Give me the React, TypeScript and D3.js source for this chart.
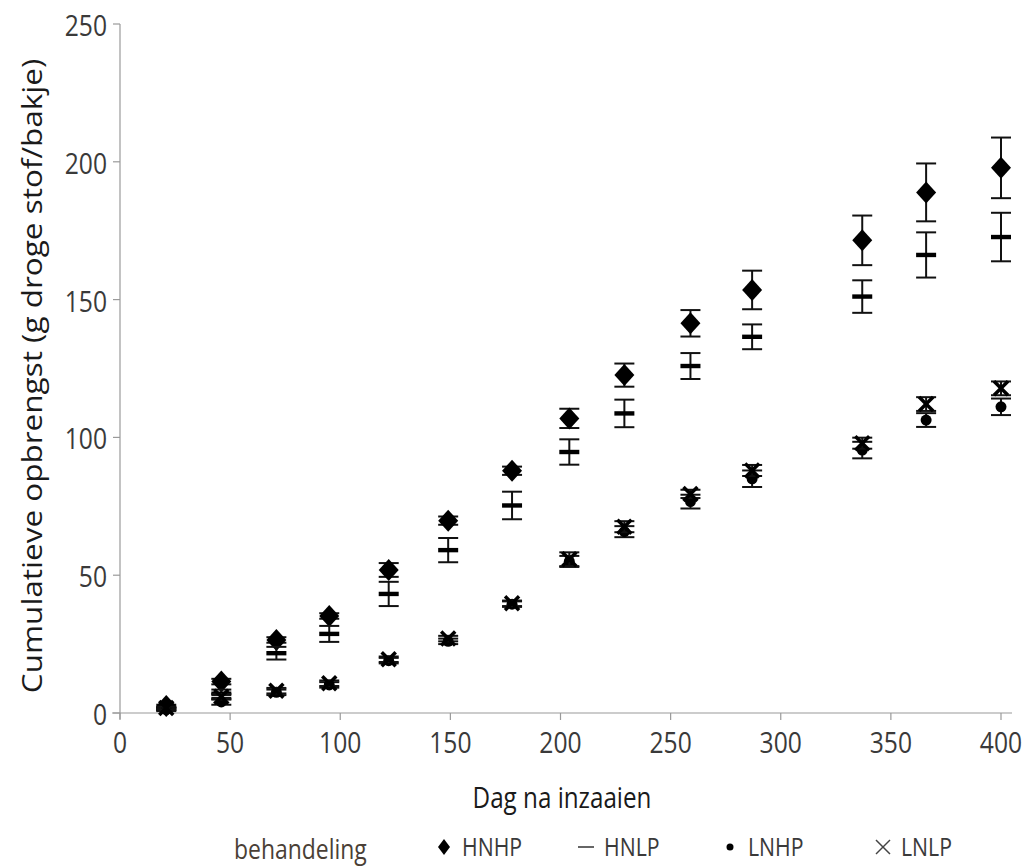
import React from "react";
import * as d3 from "d3";

const days = [21, 46, 71, 95, 122, 149, 178, 204, 229, 259, 287, 337, 366, 400];

const hnhp = [2.5, 11.4, 26.5, 35.2, 51.9, 69.8, 87.9, 106.9, 122.6, 141.4, 153.5, 171.5, 188.9, 197.8];
const hnhpErr = [0.5, 1, 1, 1, 2.5, 1.5, 1.5, 3.5, 4.2, 4.8, 7, 9, 10.5, 11];

const hnlp = [1.5, 7, 21.7, 28.7, 43.2, 59.1, 75.3, 94.7, 108.7, 125.9, 136.5, 151.1, 166.2, 172.7];
const hnlpErr = [0.5, 1.5, 2.3, 2.9, 4.4, 4.4, 5, 4.6, 5, 4.7, 4.5, 5.9, 8.2, 8.8];

const lnhp = [1.2, 4, 7.5, 10.2, 19, 26, 39.5, 55, 65.8, 76.7, 85, 95.4, 106.3, 111.1];
const lnhpErr = [0.5, 1, 1, 1, 1, 1, 1, 2, 2, 2.5, 3, 3, 2.5, 3];

const lnlp = [1.8, 5.9, 8.1, 10.8, 19.5, 27, 39.8, 55.8, 67.6, 79.5, 88, 97.9, 112.1, 117.8];
const lnlpErr = [0.5, 1, 1, 1, 1, 1, 1, 2.5, 2, 1.5, 2, 2, 2.5, 2.5];

const xTicks = [0, 50, 100, 150, 200, 250, 300, 350, 400];
const yTicks = [0, 50, 100, 150, 200, 250];

const seriesNames = ["HNHP", "HNLP", "LNHP", "LNLP"];

const FONT = "'Open Sans', 'Noto Sans', sans-serif";
const SQ = 0.85; // horizontal squash of all text

function Marker({ kind, x, y }: { kind: string; x: number; y: number }) {
  if (kind === "HNHP") {
    return <path d={`M${x},${y - 11} L${x + 10},${y} L${x},${y + 11} L${x - 10},${y} Z`} fill="#000" />;
  }
  if (kind === "HNLP") {
    return <rect x={x - 10} y={y - 2.2} width={20} height={4.4} fill="#000" />;
  }
  if (kind === "LNHP") {
    return <circle cx={x} cy={y} r={5.5} fill="#000" />;
  }
  return (
    <g stroke="#000" strokeWidth={3.5}>
      <line x1={x - 7} y1={y - 7} x2={x + 7} y2={y + 7} />
      <line x1={x - 7} y1={y + 7} x2={x + 7} y2={y - 7} />
    </g>
  );
}

function SText({
  x,
  y,
  anchor = "start",
  size,
  fill,
  children,
}: {
  x: number;
  y: number;
  anchor?: string;
  size: number;
  fill: string;
  children: any;
}) {
  return (
    <text
      transform={`translate(${x},${y}) scale(${SQ},1)`}
      textAnchor={anchor}
      fontSize={size}
      fill={fill}
    >
      {children}
    </text>
  );
}

export default function App() {
  const x = d3.scaleLinear().domain([0, 400]).range([120, 1001]);
  const y = d3.scaleLinear().domain([0, 250]).range([713, 24]);

  const series = [
    { name: "HNHP", vals: hnhp, err: hnhpErr },
    { name: "HNLP", vals: hnlp, err: hnlpErr },
    { name: "LNHP", vals: lnhp, err: lnhpErr },
    { name: "LNLP", vals: lnlp, err: lnlpErr },
  ];

  const legendX = [444, 586, 730, 883];

  return (
    <svg
      width={1023}
      height={868}
      style={{ position: "absolute", left: 0, top: 0, background: "#fff" }}
      fontFamily={FONT}
    >
      {/* axes */}
      <line x1={120} y1={24} x2={120} y2={719} stroke="#9a9a9a" strokeWidth={1.2} />
      <line x1={112} y1={713} x2={1012} y2={713} stroke="#9a9a9a" strokeWidth={1.2} />
      {yTicks.map((t) => (
        <g key={"y" + t}>
          <line x1={113} x2={120} y1={y(t)} y2={y(t)} stroke="#9a9a9a" strokeWidth={1.2} />
          <SText x={107} y={y(t) + 12} anchor="end" size={29} fill="#3a3a3a">
            {t}
          </SText>
        </g>
      ))}
      {xTicks.map((t) => (
        <g key={"x" + t}>
          <line x1={x(t)} x2={x(t)} y1={713} y2={720} stroke="#9a9a9a" strokeWidth={1.2} />
          <SText x={x(t)} y={753} anchor="middle" size={29} fill="#3a3a3a">
            {t}
          </SText>
        </g>
      ))}

      {/* axis titles */}
      <SText x={562} y={808} anchor="middle" size={28.5} fill="#1a1a1a">
        Dag na inzaaien
      </SText>
      <text
        transform={`translate(42,376) scale(${SQ},1) rotate(-90)`}
        textAnchor="middle"
        fontSize={31.5}
        fill="#1a1a1a"
      >
        Cumulatieve opbrengst (g droge stof/bakje)
      </text>

      {/* error bars and markers */}
      {series.map((s) => (
        <g key={s.name}>
          {days.map((d, i) => {
            const cx = x(d);
            const hi = y(s.vals[i] + s.err[i]);
            const lo = y(s.vals[i] - s.err[i]);
            return (
              <g key={i} stroke="#111" strokeWidth={2}>
                <line x1={cx} x2={cx} y1={hi} y2={lo} />
                <line x1={cx - 10} x2={cx + 10} y1={hi} y2={hi} />
                <line x1={cx - 10} x2={cx + 10} y1={lo} y2={lo} />
              </g>
            );
          })}
          {days.map((d, i) => (
            <Marker key={"m" + i} kind={s.name} x={x(d)} y={y(s.vals[i])} />
          ))}
        </g>
      ))}

      {/* legend */}
      <SText x={234} y={859} size={27} fill="#4a3f36">
        behandeling
      </SText>
      {seriesNames.map((n, i) => {
        const lx = legendX[i];
        const ly = 847;
        let sym;
        if (n === "HNHP") sym = <path d={`M${lx},${ly - 8} L${lx + 6},${ly} L${lx},${ly + 8} L${lx - 6},${ly} Z`} fill="#000" />;
        else if (n === "HNLP") sym = <line x1={lx - 8} x2={lx + 8} y1={ly} y2={ly} stroke="#333" strokeWidth={1.5} />;
        else if (n === "LNHP") sym = <circle cx={lx} cy={ly} r={3.5} fill="#000" />;
        else
          sym = (
            <g stroke="#444" strokeWidth={1.5}>
              <line x1={lx - 7} y1={ly - 7} x2={lx + 7} y2={ly + 7} />
              <line x1={lx - 7} y1={ly + 7} x2={lx + 7} y2={ly - 7} />
            </g>
          );
        return (
          <g key={n}>
            {sym}
            <SText x={lx + 18} y={ly + 9} size={25} fill="#3a3a3a">
              {n}
            </SText>
          </g>
        );
      })}
    </svg>
  );
}
